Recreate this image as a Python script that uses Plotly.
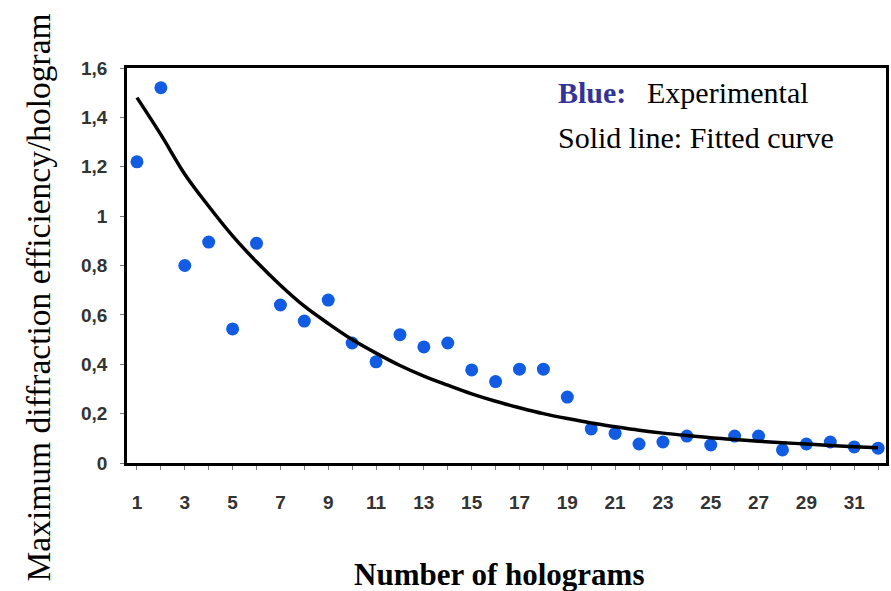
import plotly.graph_objects as go

# Number of holograms
holograms = list(range(1, 33))

# Experimental points (blue)
experimental = [1.22, 1.52, 0.80, 0.895, 0.543, 0.89, 0.64, 0.575, 0.66, 0.486,
                0.41, 0.52, 0.47, 0.486, 0.377, 0.33, 0.38, 0.38, 0.267, 0.138,
                0.12, 0.077, 0.085, 0.109, 0.073, 0.109, 0.109, 0.053, 0.077, 0.085,
                0.065, 0.06]

# Fitted curve values
fitted = [1.48, 1.33, 1.17, 1.04, 0.92, 0.815, 0.72, 0.635, 0.565, 0.50,
          0.445, 0.395, 0.352, 0.315, 0.28, 0.25, 0.224, 0.20, 0.18, 0.162,
          0.147, 0.133, 0.121, 0.111, 0.102, 0.095, 0.088, 0.082, 0.077, 0.071,
          0.066, 0.062]

y_tick_vals = [0, 0.2, 0.4, 0.6, 0.8, 1.0, 1.2, 1.4, 1.6]
y_tick_text = ["<b>0</b>", "<b>0,2</b>", "<b>0,4</b>", "<b>0,6</b>", "<b>0,8</b>",
               "<b>1</b>", "<b>1,2</b>", "<b>1,4</b>", "<b>1,6</b>"]
x_tick_vals = list(range(1, 33))
x_tick_text = ["<b>%d</b>" % n if n % 2 == 1 else "" for n in x_tick_vals]

fig = go.Figure()
fig.add_trace(go.Scatter(
    x=holograms, y=experimental, mode="markers",
    marker=dict(size=13, color="rgb(18,92,228)"),
    showlegend=False,
))
fig.add_trace(go.Scatter(
    x=holograms, y=fitted, mode="lines",
    line=dict(color="black", width=3.5, shape="spline", smoothing=1.0),
    showlegend=False,
))

tick_font = dict(family="Liberation Sans, Arial, sans-serif", size=19, color="#333")

fig.update_layout(
    width=891, height=591,
    margin=dict(l=127, r=2, t=68, b=128),
    paper_bgcolor="white", plot_bgcolor="white",
    xaxis=dict(
        range=[0.583, 32.33], showgrid=False, zeroline=False,
        tickvals=x_tick_vals, ticktext=x_tick_text,
        ticks="outside", ticklen=4, tickwidth=1, tickcolor="#777",
        tickfont=tick_font, ticklabelstandoff=16,
        showline=True, linecolor="black", linewidth=2.5, mirror=True,
    ),
    yaxis=dict(
        range=[0, 1.6], showgrid=False, zeroline=False,
        tickvals=y_tick_vals, ticktext=y_tick_text,
        ticks="outside", ticklen=4, tickwidth=1, tickcolor="#777",
        tickfont=tick_font, ticklabelstandoff=9,
        showline=True, linecolor="black", linewidth=2.5, mirror=True,
    ),
    annotations=[
        dict(text="<b>Blue:</b>", xref="paper", yref="paper", x=0.5656, y=0.937,
             xanchor="left", yanchor="middle", showarrow=False,
             font=dict(family="Liberation Serif, Times New Roman, serif", size=30, color="#333399")),
        dict(text="Experimental", xref="paper", yref="paper", x=0.683, y=0.937,
             xanchor="left", yanchor="middle", showarrow=False,
             font=dict(family="Liberation Serif, Times New Roman, serif", size=30, color="black")),
        dict(text="Solid line: Fitted curve", xref="paper", yref="paper", x=0.5656, y=0.823,
             xanchor="left", yanchor="middle", showarrow=False,
             font=dict(family="Liberation Serif, Times New Roman, serif", size=30, color="black")),
        dict(text="<b>Number of holograms</b>", xref="paper", yref="paper", x=0.4895, y=-0.2835,
             xanchor="center", yanchor="middle", showarrow=False,
             font=dict(family="Liberation Serif, Times New Roman, serif", size=31, color="black")),
        dict(text="Maximum diffraction efficiency/hologram", xref="paper", yref="paper",
             x=-0.1168, y=0.42, xanchor="center", yanchor="middle", showarrow=False, textangle=-90,
             font=dict(family="Liberation Serif, Times New Roman, serif", size=33.5, color="black")),
    ],
)

fig.write_html("out.html")
